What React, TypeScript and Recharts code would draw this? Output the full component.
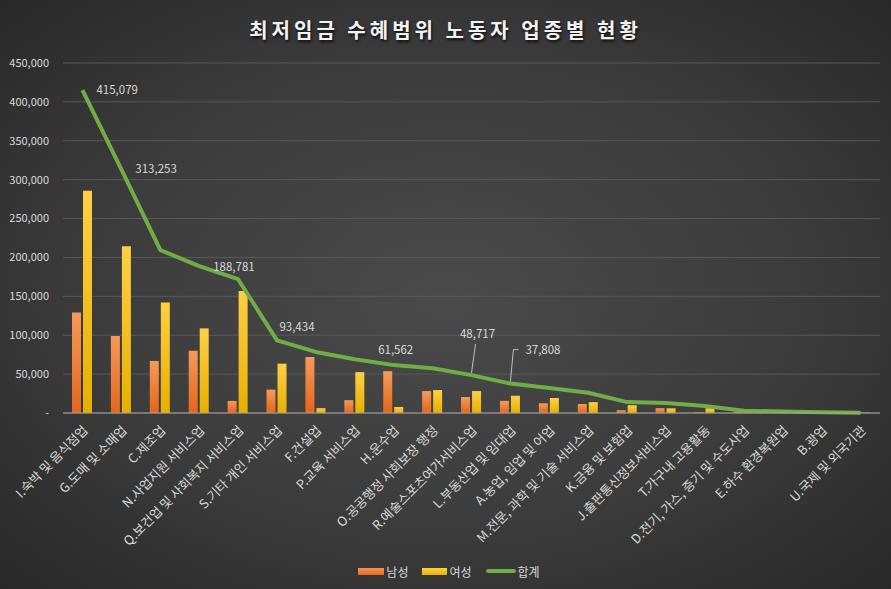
import React from "react";
import {
  ComposedChart,
  Bar,
  Line,
  XAxis,
  YAxis,
  CartesianGrid,
  Legend,
  LabelList,
} from "recharts";

const categories = [
  "I.숙박 및 음식점업",
  "G.도매 및 소매업",
  "C.제조업",
  "N.사업지원 서비스업",
  "Q.보건업 및 사회복지 서비스업",
  "S.기타 개인 서비스업",
  "F.건설업",
  "P.교육 서비스업",
  "H.운수업",
  "O.공공행정 사회보장 행정",
  "R.예술스포츠여가서비스업",
  "L.부동산업 및 임대업",
  "A.농업, 임업 및 어업",
  "M.전문, 과학 및 기술 서비스업",
  "K.금융 및 보험업",
  "J.출판통신정보서비스업",
  "T.가구내 고용활동",
  "D.전기, 가스, 증기 및 수도사업",
  "E.하수 환경복원업",
  "B.광업",
  "U.국제 및 외국기관",
];

const male = [
  129300, 99000, 67000, 80000, 15500, 30000, 72000, 16500, 53800, 28200,
  20500, 15600, 12500, 11600, 3500, 6200, 600, 1200, 800, 500, 100,
];

const female = [
  285779, 214253, 142000, 108781, 156800, 63434, 6200, 52500, 7762, 29500,
  28217, 22208, 19300, 14000, 10000, 6000, 6200, 1800, 1000, 400, 300,
];

const total = [
  415079, 313253, 209600, 188781, 172000, 93434, 78500, 69000, 61562, 57500,
  48717, 37808, 32000, 26000, 14000, 12800, 9000, 3000, 1800, 900, 400,
];

const yTicks = [0, 50000, 100000, 150000, 200000, 250000, 300000, 350000, 400000, 450000];

const data = categories.map((name, i) => ({
  name,
  남성: male[i],
  여성: female[i],
  합계: total[i],
}));

const FONT = "'Noto Sans CJK KR', 'Noto Sans', sans-serif";
const TEXT = "#d9d9d9";
const GREEN = "#70ad47";

// which total points get a data label, and how it sits
const labelStyle: Record<number, { dx: number; dy: number; anchor: string; leader?: number[][] }> = {
  0: { dx: 14, dy: 0, anchor: "start" },
  1: { dx: 14, dy: 0, anchor: "start" },
  3: { dx: 14, dy: 1, anchor: "start" },
  5: { dx: 20, dy: -13, anchor: "middle" },
  8: { dx: 2, dy: -15, anchor: "middle" },
  10: { dx: 6, dy: -41, anchor: "middle", leader: [[4, -31], [0, -2]] },
  11: { dx: 15, dy: -34, anchor: "start", leader: [[8, -34], [3, -34], [0, -2]] },
};

function TotalLabel(props: any) {
  const { x, y, value, index } = props;
  const s = labelStyle[index];
  if (!s) return null;
  return (
    <g>
      {s.leader && (
        <polyline
          points={s.leader.map((p) => `${x + p[0]},${y + p[1]}`).join(" ")}
          fill="none"
          stroke="#bfbfbf"
          strokeWidth={1}
        />
      )}
      <text
        x={x + s.dx}
        y={y + s.dy}
        dy="0.35em"
        textAnchor={s.anchor}
        fill={TEXT}
        fontSize={11.5}
        fontFamily={FONT}>
        {Number(value).toLocaleString("en-US")}
      </text>
    </g>
  );
}

function CategoryTick(props: any) {
  const { x, y, payload } = props;
  return (
    <g transform={`translate(${x + 3},${y + 7})`}>
      <text
        x={0}
        y={0}
        dy="0.35em"
        textAnchor="end"
        transform="rotate(-45)"
        fill={TEXT}
        fontSize={12.8}
        fontFamily={FONT}>
        {payload.value}
      </text>
    </g>
  );
}

function LegendContent() {
  const item = { display: "flex", alignItems: "center", gap: 2 } as const;
  return (
    <div
      style={{
        height: 24,
        display: "flex",
        justifyContent: "center",
        alignItems: "center",
        gap: 14,
        fontFamily: FONT,
        fontSize: 12,
        color: TEXT,
        paddingLeft: 18,
      }}>
      <div style={item}>
        <span style={{ width: 26, height: 7, background: "linear-gradient(#f59450,#e56b1f)" }} />
        <span>남성</span>
      </div>
      <div style={item}>
        <span style={{ width: 25, height: 7, background: "linear-gradient(#ffd040,#e8b400)" }} />
        <span>여성</span>
      </div>
      <div style={item}>
        <span style={{ width: 30, height: 4, borderRadius: 2, background: GREEN }} />
        <span>합계</span>
      </div>
    </div>
  );
}

export default function App() {
  return (
    <div
      style={{
        position: "absolute",
        left: 0,
        top: 0,
        width: 891,
        height: 589,
        background:
          "radial-gradient(ellipse at 50% 50%, #4a4a4a 0%, #3c3c3c 55%, #282828 100%)",
      }}>
      <div
        style={{
          position: "absolute",
          top: 15,
          left: 0,
          width: 891,
          textAlign: "center",
          fontFamily: FONT,
          fontWeight: 700,
          fontSize: 20,
          letterSpacing: 4,
          color: "#f2f2f2",
          textShadow: "1px 2px 3px rgba(0,0,0,0.8)",
        }}>
        최저임금 수혜범위 노동자 업종별 현황
      </div>
      <ComposedChart
        width={891}
        height={589}
        data={data}
        barSize={9}
        barGap={2}
        margin={{ top: 63, right: 11, left: 0, bottom: 12 }}>
        <defs>
          <linearGradient id="gMale" x1="0" y1="0" x2="0" y2="1">
            <stop offset="0%" stopColor="#f59a5a" />
            <stop offset="100%" stopColor="#e3661a" />
          </linearGradient>
          <linearGradient id="gFemale" x1="0" y1="0" x2="0" y2="1">
            <stop offset="0%" stopColor="#ffcf45" />
            <stop offset="100%" stopColor="#e6b000" />
          </linearGradient>
        </defs>
        <CartesianGrid vertical={false} stroke="#595959" />
        <XAxis
          dataKey="name"
          interval={0}
          height={140}
          tickLine={false}
          axisLine={{ stroke: "#a6a6a6" }}
          tick={<CategoryTick />}
        />
        <YAxis
          width={63}
          domain={[0, 450000]}
          ticks={yTicks}
          axisLine={false}
          tickLine={false}
          tickMargin={8}
          tick={{ fill: TEXT, fontSize: 11, fontFamily: FONT }}
          tickFormatter={(v: number) => (v === 0 ? "-" : v.toLocaleString("en-US"))}
        />
        <Legend verticalAlign="bottom" wrapperStyle={{ bottom: 6 }} content={<LegendContent />} />
        <Bar dataKey="남성" fill="url(#gMale)" isAnimationActive={false} />
        <Bar dataKey="여성" fill="url(#gFemale)" isAnimationActive={false} />
        <Line
          dataKey="합계"
          type="linear"
          stroke={GREEN}
          strokeWidth={4}
          strokeLinejoin="round"
          dot={false}
          activeDot={false}
          isAnimationActive={false}>
          <LabelList dataKey="합계" content={<TotalLabel />} />
        </Line>
      </ComposedChart>
    </div>
  );
}
